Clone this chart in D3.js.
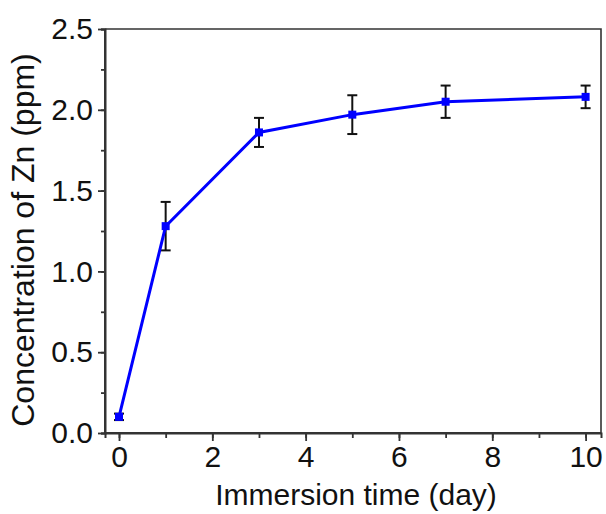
<!DOCTYPE html>
<html>
<head>
<meta charset="utf-8">
<script src="https://cdn.jsdelivr.net/npm/d3@7"></script>
<style>
  body { margin: 0; background: #fff; }
  svg text { font-family: "Liberation Sans", Arial, sans-serif; fill: #111; }
</style>
</head>
<body>
<div id="vis"></div>
<script>
// data
var days = [0, 1, 3, 5, 7, 10];
var zn = [0.10, 1.28, 1.86, 1.97, 2.05, 2.08];
var znErr = [0.02, 0.15, 0.09, 0.12, 0.10, 0.07];
var xTicks = [0, 2, 4, 6, 8, 10];
var yTicks = [0.0, 0.5, 1.0, 1.5, 2.0, 2.5];

var w = 606, h = 514;
var pLeft = 105, pRight = 601, pTop = 29, pBottom = 433;

var svg = d3.select("#vis").append("svg")
  .attr("width", w)
  .attr("height", h);

var x = d3.scaleLinear().domain([-0.3, 10.33]).range([pLeft, pRight]);
var y = d3.scaleLinear().domain([0, 2.5]).range([pBottom, pTop]);

// frame top + right
svg.append("path")
  .attr("d", "M" + pLeft + "," + pTop + "H" + pRight + "V" + pBottom)
  .attr("fill", "none")
  .attr("stroke", "#333")
  .attr("stroke-width", 1.6);

// minor ticks
var xAxisMinor = d3.axisBottom(x).tickValues(d3.range(0, 11, 1)).tickSize(5).tickFormat("");
var yAxisMinor = d3.axisLeft(y).tickValues(d3.range(0, 2.51, 0.25)).tickSize(4).tickFormat("");

svg.append("g").attr("transform", "translate(0," + pBottom + ")").call(xAxisMinor);
svg.append("g").attr("transform", "translate(" + pLeft + ",0)").call(yAxisMinor);

var xAxis = d3.axisBottom(x).tickValues(xTicks).tickSize(8).tickPadding(5)
  .tickFormat(d3.format("d"));
var yAxis = d3.axisLeft(y).tickValues(yTicks).tickSize(7).tickPadding(5)
  .tickFormat(d3.format(".1f"));

var gx = svg.append("g").attr("transform", "translate(0," + pBottom + ")").call(xAxis);
var gy = svg.append("g").attr("transform", "translate(" + pLeft + ",0)").call(yAxis);

svg.selectAll(".domain").attr("stroke", "#333").attr("stroke-width", 2);
svg.selectAll(".tick line").attr("stroke", "#333").attr("stroke-width", 1.8);
svg.selectAll(".tick text").style("font-size", "30px").attr("fill", "#111");
gy.selectAll(".domain").attr("d", "M0," + pTop + "V" + pBottom);
gx.selectAll(".domain").attr("d", "M" + pLeft + ",0H" + pRight);

// error bars
var eb = svg.append("g").selectAll("g")
  .data(days).enter().append("g");
eb.append("line")
  .attr("x1", function(d) { return x(d); })
  .attr("x2", function(d) { return x(d); })
  .attr("y1", function(d, i) { return y(zn[i] + znErr[i]); })
  .attr("y2", function(d, i) { return y(zn[i] - znErr[i]); })
  .attr("stroke", "#111").attr("stroke-width", 2);
[1, -1].forEach(function(s) {
  eb.append("line")
    .attr("x1", function(d) { return x(d) - 5; })
    .attr("x2", function(d) { return x(d) + 5; })
    .attr("y1", function(d, i) { return y(zn[i] + s * znErr[i]); })
    .attr("y2", function(d, i) { return y(zn[i] + s * znErr[i]); })
    .attr("stroke", "#111").attr("stroke-width", 2);
});

// line
var line = d3.line()
  .x(function(d, i) { return x(days[i]); })
  .y(function(d) { return y(d); });
svg.append("path")
  .datum(zn)
  .attr("d", line)
  .attr("fill", "none")
  .attr("stroke", "#0000ff")
  .attr("stroke-width", 3);

// markers
svg.append("g").selectAll("rect")
  .data(zn).enter().append("rect")
  .attr("x", function(d, i) { return x(days[i]) - 4; })
  .attr("y", function(d) { return y(d) - 4; })
  .attr("width", 8)
  .attr("height", 8)
  .attr("fill", "#0000ff");

// axis titles
svg.append("text")
  .attr("x", (pLeft + pRight) / 2 + 3)
  .attr("y", 505)
  .attr("text-anchor", "middle")
  .style("font-size", "30px")
  .text("Immersion time (day)");

svg.append("text")
  .attr("transform", "translate(34," + 240 + ") rotate(-90)")
  .attr("text-anchor", "middle")
  .style("font-size", "32px")
  .text("Concentration of Zn (ppm)");
</script>
</body>
</html>
